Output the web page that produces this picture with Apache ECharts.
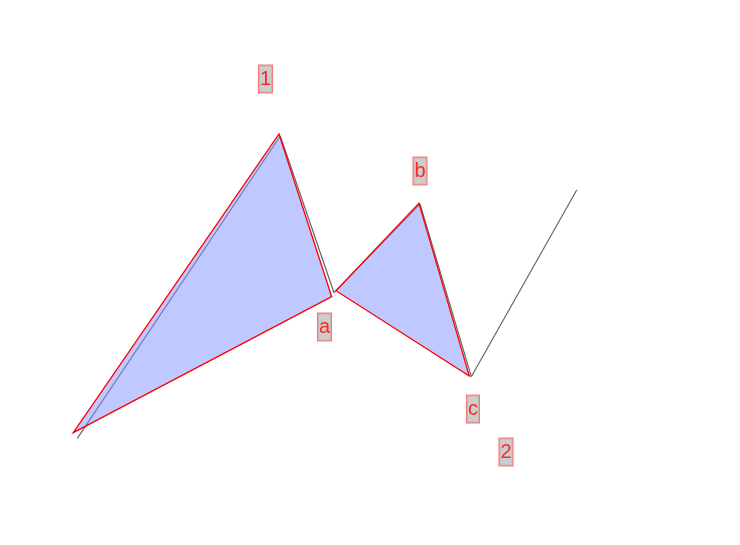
<!DOCTYPE html>
<html>
<head>
<meta charset="utf-8">
<script src="https://cdn.jsdelivr.net/npm/echarts@6/dist/echarts.min.js"></script>
<style>html,body{margin:0;padding:0;background:#fff;}#main{width:740px;height:545px;}</style>
</head>
<body>
<div id="main"></div>
<script>
// Wave path (x, y values in chart units)
var waveX = [77.3, 280.3, 334, 420, 471.3, 576.7];
var waveY = [106.7, 409, 252.3, 341, 168.3, 355];

// Triangles (each vertex [x, y])
var triangle1 = [[73.3, 112.3], [279, 411], [331.7, 248.3]];
var triangle2 = [[336, 254.3], [419, 341.7], [469.3, 169]];

// Wave labels
var labelNames = ['1', 'a', 'b', 'c', '2'];
var labelX = [265.5, 324.5, 420, 473, 506];
var labelY = [466, 218, 374, 136, 93];

var waveData = waveX.map(function (x, i) { return [x, waveY[i]]; });
var labelData = labelNames.map(function (n, i) { return { name: n, value: [labelX[i], labelY[i]] }; });
var triangles = [triangle1, triangle2];

var chart = echarts.init(document.getElementById('main'));
chart.setOption({
  animation: false,
  grid: { left: 0, right: 0, top: 0, bottom: 0 },
  xAxis: { type: 'value', min: 0, max: 740, show: false },
  yAxis: { type: 'value', min: 0, max: 545, show: false },
  series: [
    {
      type: 'line',
      data: waveData,
      symbol: 'none',
      lineStyle: { color: '#666666', width: 1.2 },
      z: 1
    },
    {
      type: 'custom',
      data: triangles.map(function (t, i) { return [i]; }),
      renderItem: function (params, api) {
        var tri = triangles[api.value(0)];
        var pts = tri.map(function (p) { return api.coord(p); });
        return {
          type: 'polygon',
          shape: { points: pts },
          style: { fill: 'rgba(128,148,255,0.5)', stroke: '#ff0000', lineWidth: 1.3 }
        };
      },
      z: 2
    },
    {
      type: 'scatter',
      data: labelData,
      symbolSize: 0,
      label: {
        show: true,
        position: 'inside',
        formatter: '{b}',
        color: '#ff0000',
        fontFamily: 'Liberation Sans, Arial, sans-serif',
        fontSize: 20,
        lineHeight: 20,
        backgroundColor: '#c0c0c0',
        borderColor: 'rgba(255,40,40,0.8)',
        borderWidth: 1,
        padding: [4, 1, 3, 1]
      },
      z: 4
    }
  ]
});
</script>
</body>
</html>
